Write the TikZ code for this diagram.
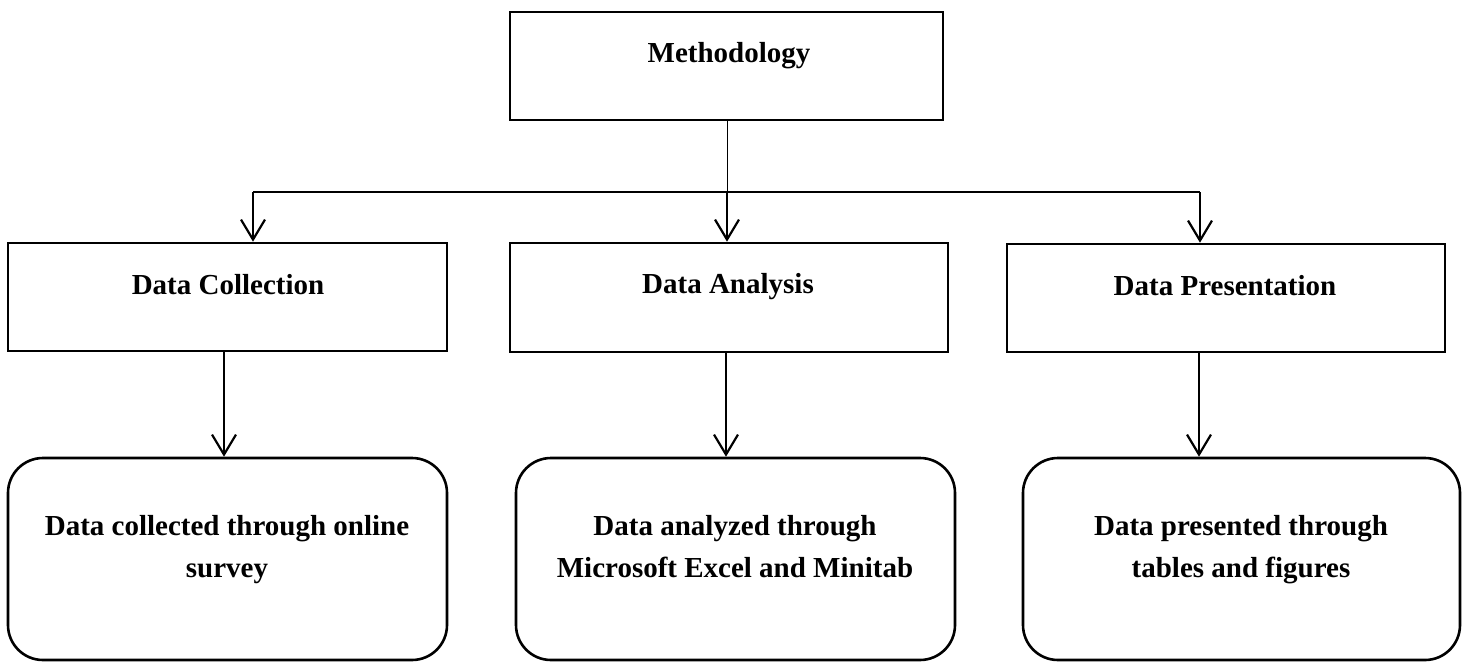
\documentclass[tikz,border=0pt]{standalone}
\usepackage{fontspec}
\setmainfont{Liberation Serif}
\usetikzlibrary{arrows.meta}
\begin{document}
\begin{tikzpicture}[x=1pt,y=-1pt,
  sqbox/.style={draw=black,line width=2.6pt,inner sep=0pt,minimum width=#1},
  rbox/.style={draw=black,line width=2.6pt,rounded corners=35pt,inner sep=0pt,minimum width=439pt,minimum height=202pt},
  txt/.style={anchor=base,inner sep=0pt,font=\fontsize{29}{42}\selectfont\bfseries},
  arr/.style={line width=2pt,-{Straight Barb[length=20pt,width=24pt,line width=2.2pt]}},
  conn/.style={line width=1.4pt}]
\useasboundingbox (0,0) rectangle (1470,662);
\node[sqbox=433pt,minimum height=108pt] (m) at (726.5,66) {};
\node[sqbox=439pt,minimum height=108pt] (dc) at (227.5,297) {};
\node[sqbox=438pt,minimum height=109pt] (da) at (729,297.5) {};
\node[sqbox=438pt,minimum height=108pt] (dp) at (1226,298) {};
\node[rbox] (cc) at (227.5,559) {};
\node[rbox] (ca) at (735.5,559) {};
\node[rbox,minimum width=437pt] (cp) at (1241.5,559) {};
\node[txt] (tm) at (729,62) {Methodology};
\node[txt] (tdc) at (228,294) {Data Collection};
\node[txt] (tda) at (728,293) {Data Analysis};
\node[txt] (tdp) at (1225,295) {Data Presentation};
\node[txt] (tcc1) at (227,535) {Data collected through online};
\node[txt] (tcc2) at (227,577) {survey};
\node[txt] (tca1) at (735,535) {Data analyzed through};
\node[txt] (tca2) at (735,577) {Microsoft Excel and Minitab};
\node[txt] (tcp1) at (1241,535) {Data presented through};
\node[txt] (tcp2) at (1241,577) {tables and figures};
\coordinate (jc) at (727,192);
\coordinate (jl) at (253,192);
\coordinate (jr) at (1200,192);
\draw[line width=1pt] (m.south -| jc) -- (jc);
\draw[conn] (jl) -- (jr);
\draw[arr] (jl) -- (jl |- dc.north);
\draw[arr] (jc) -- (jc |- da.north);
\draw[arr] (jr) -- (jr |- dp.north);
\coordinate (bl) at (224,0);
\coordinate (bc) at (726,0);
\coordinate (br) at (1199,0);
\draw[arr] (bl |- dc.south) -- (bl |- cc.north);
\draw[arr] (bc |- da.south) -- (bc |- ca.north);
\draw[arr] (br |- dp.south) -- (br |- cp.north);
\end{tikzpicture}
\end{document}
